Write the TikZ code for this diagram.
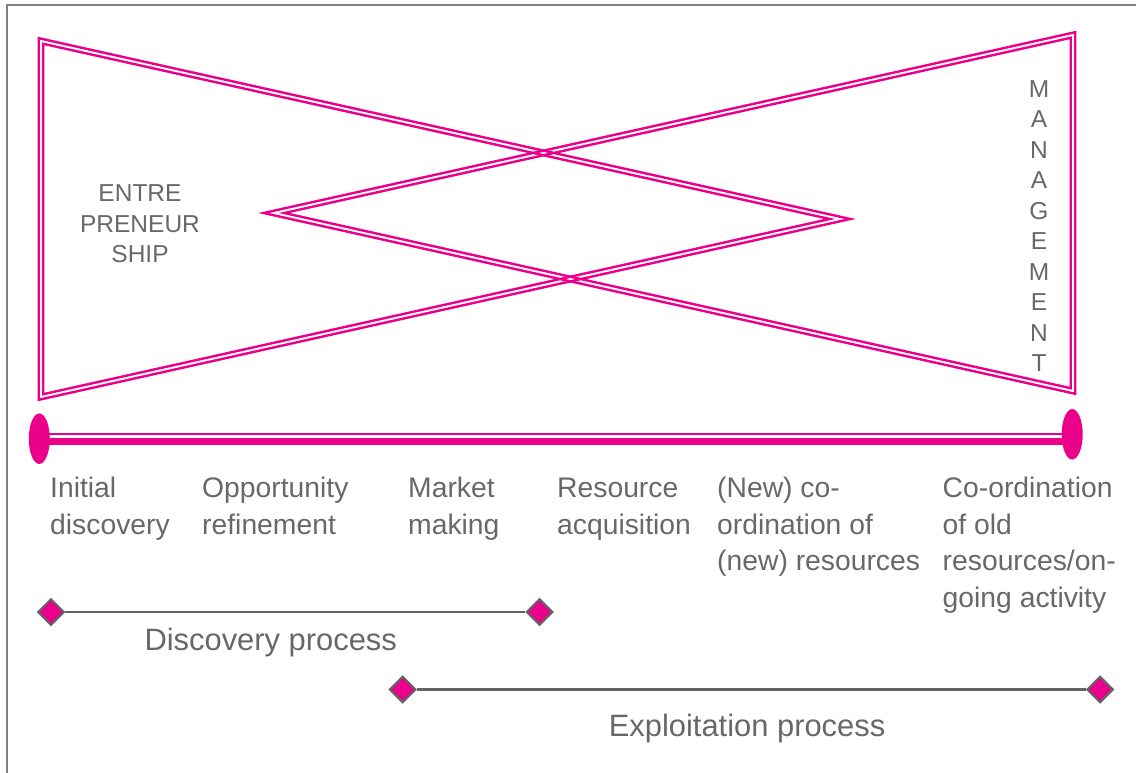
\documentclass[tikz,border=0pt]{standalone}
\usepackage{fontspec}
\setmainfont{Liberation Sans}
\usetikzlibrary{shapes.geometric}
\definecolor{mag}{RGB}{234,0,138}
\definecolor{txtgray}{RGB}{104,104,104}
\definecolor{lngray}{RGB}{100,100,100}
\definecolor{frgray}{RGB}{130,130,130}
\newcommand\firststrut{\rule{0pt}{0.8em}}
\begin{document}
\begin{tikzpicture}[x=1pt,y=-1pt,
  tri/.style={draw=mag,line width=2.4pt,line join=miter},
  lab/.style={anchor=north west,inner sep=0pt,align=left,text=txtgray,font=\fontsize{28.3}{36.5}\selectfont},
  proc/.style={anchor=base west,inner sep=0pt,text=txtgray,font=\fontsize{30.9}{36}\selectfont},
  vert/.style={anchor=north,inner sep=0pt,align=center,text=txtgray,font=\fontsize{24.5}{30.5}\selectfont},
  knob/.style={ellipse,fill=mag,inner sep=0pt,minimum width=21pt,minimum height=50.5pt},
  dia/.style={diamond,fill=mag,draw=lngray,line width=2pt,inner sep=0pt,minimum width=26.5pt,minimum height=26.5pt},
  span/.style={draw=lngray,line width=2.6pt}]
\useasboundingbox (0,0) rectangle (1136,773);
% frame
\draw[frgray,line width=1.5pt] (7,780) -- (7,5) -- (1140,5);
% left triangle (double line)
\draw[tri] (38.75,38.19) -- (850.35,219) -- (38.75,399.81) -- cycle;
\draw[tri] (43.25,43.81) -- (829.65,219) -- (43.25,394.19) -- cycle;
% right triangle (double line)
\draw[tri] (1075.25,32.19) -- (263.65,213) -- (1075.25,393.81) -- cycle;
\draw[tri] (1070.75,37.81) -- (284.35,213) -- (1070.75,388.19) -- cycle;
% side words
\node[vert] (entre) at (140,182.1) {\firststrut ENTRE\\PRENEUR\\SHIP};
\node[vert] (mgmt) at (1039,77.4) {\firststrut M\\A\\N\\A\\G\\E\\M\\E\\N\\T};
% timeline bar
\node[knob] (L) at (39.3,438.7) {};
\node[knob] (R) at (1072.2,434.3) {};
\coordinate (bt) at (0,433.85);
\coordinate (bb) at (0,441.35);
\draw[mag,line width=2.3pt] (L.center |- bt) -- (R.center |- bt);
\draw[mag,line width=7.3pt] (L.center |- bb) -- (R.center |- bb);
% stage labels
\node[lab] (l1) at (50,474.8) {\firststrut Initial\\discovery};
\node[lab] (l2) at (202,474.8) {\firststrut Opportunity\\refinement};
\node[lab] (l3) at (408,474.8) {\firststrut Market\\making};
\node[lab] (l4) at (557,474.8) {\firststrut Resource\\acquisition};
\node[lab] (l5) at (717,474.8) {\firststrut (New) co-\\ordination of\\(new) resources};
\node[lab] (l6) at (942.5,474.8) {\firststrut Co-ordination\\of old\\resources/on-\\going activity};
% process spans
\node[dia] (d1) at (51,612) {};
\node[dia] (d2) at (539.5,612) {};
\node[dia] (d3) at (402.7,689.5) {};
\node[dia] (d4) at (1100,689.5) {};
\draw[span] (d1) -- (d2);
\draw[span] (d3) -- (d4);
\node[proc] (dp) at (144.3,650) {Discovery process};
\node[proc] (ep) at (608.6,736) {Exploitation process};
\end{tikzpicture}
\end{document}
